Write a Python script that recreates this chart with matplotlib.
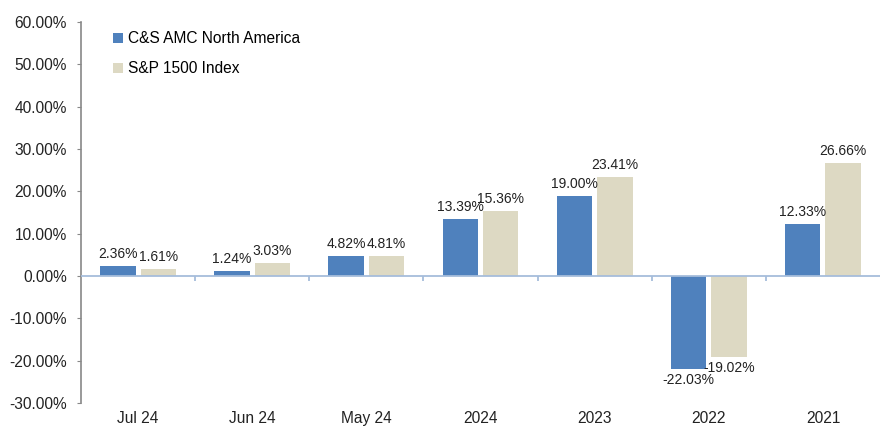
import matplotlib
matplotlib.use("Agg")
import matplotlib.pyplot as plt
import numpy as np

categories = ["Jul 24", "Jun 24", "May 24", "2024", "2023", "2022", "2021"]
fund = [2.36, 1.24, 4.82, 13.39, 19.00, -22.03, 12.33]
index = [1.61, 3.03, 4.81, 15.36, 23.41, -19.02, 26.66]
series_names = ["C&S AMC North America", "S&P 1500 Index"]
yticks = [60, 50, 40, 30, 20, 10, 0, -10, -20, -30]

plt.rcParams['font.family'] = ['Liberation Sans', 'DejaVu Sans']

fig = plt.figure(figsize=(8.82, 4.30), dpi=100)
ax = fig.add_axes([0.0918, 0.0628, 0.906, 0.886])

x = np.arange(len(categories))
w = 0.31
gap = 0.022
c1 = "#4F81BD"
c2 = "#DDD9C3"
b1 = ax.bar(x - w/2 - gap, fund, w, color=c1, label=series_names[0], zorder=2)
b2 = ax.bar(x + w/2 + gap, index, w, color=c2, label=series_names[1], zorder=2)

for bars, vals in ((b1, fund), (b2, index)):
    for r, v in zip(bars, vals):
        cx = r.get_x() + r.get_width()/2
        if v >= 0:
            ax.annotate(f"{v:.2f}%", (cx, v), xytext=(0, 3.5), textcoords="offset points",
                        ha="center", va="bottom", fontsize=10, color="#222222")
        else:
            ax.annotate(f"{v:.2f}%", (cx, v), xytext=(0, -3), textcoords="offset points",
                        ha="center", va="top", fontsize=10, color="#222222")

ax.set_xlim(-0.5, len(categories) - 0.5)
ax.set_ylim(-30, 60)
ax.set_yticks(yticks)
ax.set_yticklabels([f"{t:.2f}%" for t in yticks])
ax.set_xticks(x)
ax.set_xticklabels(categories)

for s in ("top", "right", "bottom"):
    ax.spines[s].set_visible(False)
ax.spines["left"].set_color("#888888")
ax.spines["left"].set_linewidth(1.2)
ax.tick_params(axis="y", length=3, color="#888888", labelsize=11.2, pad=7, labelcolor="#222222")
ax.tick_params(axis="x", length=0, labelsize=11.2, pad=6, labelcolor="#222222")

ax.axhline(0, color="#A6BDDB", lw=1.3, zorder=3)
ax.vlines(np.arange(0.5, len(categories) - 0.5, 1.0), -1.2, 0, color="#A6BDDB", lw=1.3, zorder=3)

leg = ax.legend(loc="upper left", bbox_to_anchor=(0.022, 1.012), frameon=False, fontsize=11.2,
                handlelength=0.65, handleheight=0.65, handletextpad=0.35, labelspacing=0.95)

fig.savefig("out.png", dpi=100)
